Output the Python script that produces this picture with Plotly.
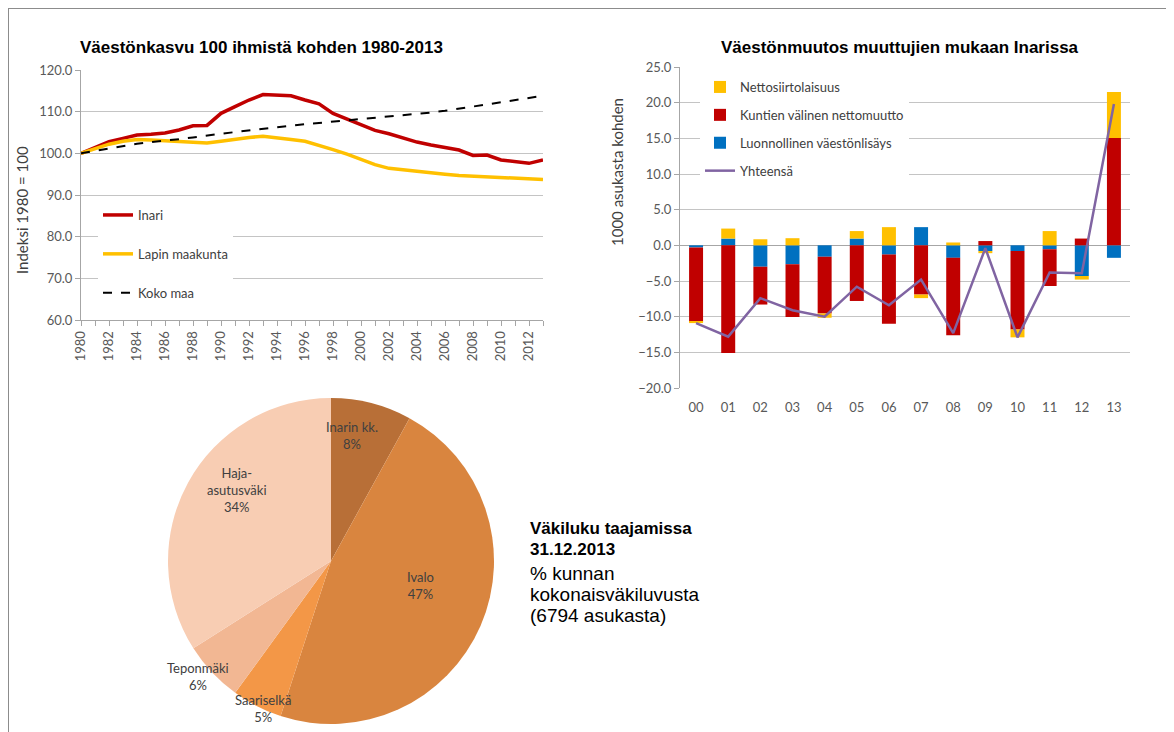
import plotly.graph_objects as go

# --- Left chart: population index 1980 = 100
years = list(range(1980, 2014))
inari = [100.0, 101.4, 102.8, 103.6, 104.4, 104.6, 104.9, 105.6, 106.6, 106.7,
         109.6, 111.2, 112.8, 114.1, 113.9, 113.8, 112.8, 111.9, 109.6, 108.2,
         106.8, 105.5, 104.7, 103.6, 102.7, 102.0, 101.3, 100.8, 99.5, 99.6,
         98.4, 98.0, 97.6, 98.4]
lappi = [100.0, 101.2, 102.2, 102.9, 103.3, 103.2, 103.0, 102.7, 102.5, 102.5,
         102.9, 103.4, 103.8, 104.1, 103.8, 103.3, 102.9, 102.0, 100.9, 99.8,
         98.5, 97.3, 96.4, 96.0, 95.7, 95.4, 95.0, 94.7, 94.5, 94.3,
         94.2, 94.1, 93.9, 93.7]
koko_maa = [100.0, 100.6, 101.2, 101.8, 102.3, 102.7, 103.0, 103.4, 103.8, 104.3,
            104.7, 105.1, 105.5, 105.9, 106.3, 106.7, 107.0, 107.3, 107.6, 107.9,
            108.2, 108.5, 108.8, 109.1, 109.4, 109.8, 110.2, 110.7, 111.2, 111.8,
            112.3, 112.8, 113.3, 113.8]

# --- Right chart: components of change per 1000 inhabitants
vuodet = ["00", "01", "02", "03", "04", "05", "06", "07", "08", "09", "10", "11", "12", "13"]
luonnollinen = [-0.3, 0.95, -3.0, -2.65, -1.6, 0.95, -1.3, 2.55, -1.75, -0.8, -0.8, -0.55, -4.3, -1.75]
kuntien = [-10.4, -15.1, -5.3, -7.4, -7.95, -7.8, -9.7, -6.9, -10.85, 0.6, -11.0, -5.15, 0.95, 15.05]
netto = [-0.2, 1.4, 0.85, 1.0, -0.6, 1.05, 2.55, -0.5, 0.4, -0.3, -1.1, 2.0, -0.5, 6.45]
yhteensa = [-10.9, -12.8, -7.4, -9.1, -10.0, -5.8, -8.4, -4.8, -12.3, -0.4, -12.9, -3.8, -3.9, 19.8]

# --- Pie: population by locality 31.12.2013
taajamat = ["Inarin kk.", "Ivalo", "Saariselkä", "Teponmäki", "Haja-<br>asutusväki"]
osuudet = [8, 47, 5, 6, 34]
pie_colors = ["#B86F37", "#D9853F", "#F39747", "#F2B793", "#F8CDB3"]
# label anchor points in page pixels (text only)
pie_label_pos = [(352, 435), (420, 585), (263, 708), (198, 676), (237, 490)]

W, H = 1174, 732
OFF = 8  # page body margin around the plot div
TICK = dict(family="Lato", size=13, color="#595959")
GRID = "#C4C4C4"


def px_x(v):
    return (v - OFF) / W


def px_y(v):
    return 1 - (v - OFF) / H


def note(text, x, y, size, family="Lato", color="#404040", **kw):
    return dict(text=text, x=px_x(x), y=px_y(y), xref="paper", yref="paper",
                showarrow=False, font=dict(family=family, size=size, color=color),
                **kw)


fig = go.Figure()

fig.add_trace(go.Scatter(x=years, y=inari, name="Inari", mode="lines",
                         line=dict(color="#C00000", width=3.5),
                         legendgroup="a", legend="legend"))
fig.add_trace(go.Scatter(x=years, y=lappi, name="Lapin maakunta", mode="lines",
                         line=dict(color="#FFC000", width=3.5),
                         legendgroup="b", legend="legend"))
fig.add_trace(go.Scatter(x=years, y=koko_maa, name="Koko maa", mode="lines",
                         line=dict(color="#000000", width=2, dash="dash"),
                         legendgroup="c", legend="legend"))

fig.add_trace(go.Bar(x=vuodet, y=luonnollinen, name="Luonnollinen väestönlisäys",
                     marker=dict(color="#0070C0", line_width=0), xaxis="x2", yaxis="y2",
                     legendgroup="r3", legend="legend2", legendrank=3))
fig.add_trace(go.Bar(x=vuodet, y=kuntien, name="Kuntien välinen nettomuutto",
                     marker=dict(color="#C00000", line_width=0), xaxis="x2", yaxis="y2",
                     legendgroup="r2", legend="legend2", legendrank=2))
fig.add_trace(go.Bar(x=vuodet, y=netto, name="Nettosiirtolaisuus",
                     marker=dict(color="#FFC000", line_width=0), xaxis="x2", yaxis="y2",
                     legendgroup="r1", legend="legend2", legendrank=1))
fig.add_trace(go.Scatter(x=vuodet, y=yhteensa, name="Yhteensä", mode="lines",
                         line=dict(color="#8064A2", width=2.5), xaxis="x2", yaxis="y2",
                         legendgroup="r4", legend="legend2", legendrank=4))

pie_r = 163
fig.add_trace(go.Pie(
    labels=taajamat, values=osuudet, sort=False, direction="clockwise", rotation=0,
    marker=dict(colors=pie_colors, line=dict(width=0)),
    textinfo="none", showlegend=False, automargin=False,
    domain=dict(x=[px_x(331 - pie_r), px_x(331 + pie_r)],
                y=[px_y(561 + pie_r), px_y(561 - pie_r)]),
))

annotations = [
    note("<b>Väestönkasvu 100 ihmistä kohden 1980-2013</b>", 78, 47, 17,
         family="Liberation Sans", color="#000", xanchor="left", yanchor="middle"),
    note("<b>Väestönmuutos muuttujien mukaan Inarissa</b>", 900, 48, 17,
         family="Liberation Sans", color="#000", xanchor="center", yanchor="middle"),
    note("Indeksi 1980 = 100", 22, 210, 15, textangle=-90,
         xanchor="center", yanchor="middle"),
    note("1000 asukasta kohden", 617, 172, 15, textangle=-90,
         xanchor="center", yanchor="middle"),
    note("<b>Väkiluku taajamissa</b>", 528, 528, 17, family="Liberation Sans",
         color="#000", xanchor="left", yanchor="middle"),
    note("<b>31.12.2013</b>", 528, 549, 17, family="Liberation Sans",
         color="#000", xanchor="left", yanchor="middle"),
    note("% kunnan", 528, 573, 19, family="Liberation Sans",
         color="#000", xanchor="left", yanchor="middle"),
    note("kokonaisväkiluvusta", 528, 594, 19, family="Liberation Sans",
         color="#000", xanchor="left", yanchor="middle"),
    note("(6794 asukasta)", 528, 615, 19, family="Liberation Sans",
         color="#000", xanchor="left", yanchor="middle"),
]
for lab, val, (lx, ly) in zip(taajamat, osuudet, pie_label_pos):
    annotations.append(note(f"{lab}<br>{val}%", lx, ly, 13, xanchor="center",
                            yanchor="middle"))

fig.update_layout(
    width=W, height=H,
    margin=dict(l=0, r=0, t=0, b=0),
    paper_bgcolor="white", plot_bgcolor="white",
    barmode="relative", bargap=0.565,
    font=dict(family="Lato", color="#404040"),
    xaxis=dict(domain=[px_x(81), px_x(543)], range=[1980, 2013], dtick=2,
               tickangle=-90, tickfont=TICK, showgrid=False, zeroline=False,
               showline=True, linecolor="#A6A6A6", ticks="outside", ticklen=5,
               tickcolor="#A6A6A6", automargin=False,
               minor=dict(dtick=1, ticks="outside", ticklen=5, tickcolor="#A6A6A6")),
    yaxis=dict(domain=[px_y(320), px_y(70)], range=[60, 120], dtick=10,
               tickformat=".1f", tickfont=TICK, gridcolor=GRID, zeroline=False,
               showline=True, linecolor="#A6A6A6", ticks="outside", ticklen=5,
               tickcolor="#A6A6A6", automargin=False),
    xaxis2=dict(domain=[px_x(680), px_x(1130)], anchor="y2", tickfont=TICK,
                showgrid=False, zeroline=False, showline=False, ticks="",
                ticklabelstandoff=10, automargin=False),
    yaxis2=dict(domain=[px_y(388), px_y(67)], anchor="x2", range=[-20, 25], dtick=5,
                tickformat=".1f", tickfont=TICK, gridcolor=GRID, zeroline=True,
                zerolinecolor="#A6A6A6", zerolinewidth=1,
                showline=True, linecolor="#A6A6A6", ticks="outside", ticklen=5,
                tickcolor="#A6A6A6", automargin=False),
    legend=dict(x=px_x(98), y=px_y(200), xanchor="left", yanchor="top",
                bgcolor="white", font=dict(family="Lato", size=13, color="#404040"),
                tracegroupgap=19, traceorder="grouped"),
    legend2=dict(x=px_x(700), y=px_y(72), xanchor="left", yanchor="top",
                 bgcolor="white", font=dict(family="Lato", size=13, color="#404040"),
                 tracegroupgap=8, traceorder="grouped"),
    shapes=[
        dict(type="line", xref="paper", yref="paper", x0=0, x1=1,
             y0=1, y1=1, line=dict(color="#8C8C8C", width=2)),
        dict(type="line", xref="paper", yref="paper", x0=0, x1=0,
             y0=0, y1=1, line=dict(color="#8C8C8C", width=2)),
    ],
    annotations=annotations,
)

fig.write_html("out.html")
